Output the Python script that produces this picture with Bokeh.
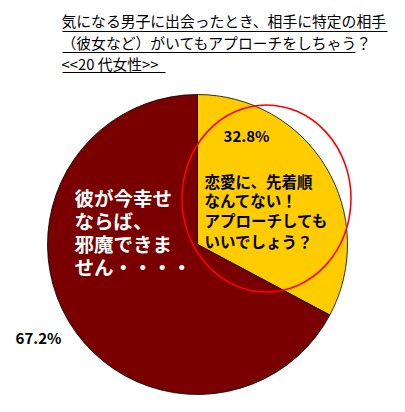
import math
from bokeh.plotting import figure
from bokeh.models import Range1d, ColumnDataSource
from bokeh.core.properties import value
from bokeh.embed import file_html
from bokeh.resources import INLINE

# ---- data ----
categories = ["恋愛に、先着順なんてない！アプローチしてもいいでしょう？",
              "彼が今幸せならば、邪魔できません・・・・"]
percents = [32.8, 67.2]
pct_labels = ["32.8%", "67.2%"]
colors = ["#FFCC00", "#7A0000"]
title_lines = ["気になる男子に出会ったとき、相手に特定の相手",
               "（彼女など）がいてもアプローチをしちゃう？",
               "<<20 代女性>>"]
yellow_text = ["恋愛に、先着順", "なんてない！", "アプローチしても", "いいでしょう？"]
red_text = ["彼が今幸せ", "ならば、", "邪魔できま", "せん・・・・"]

W, H = 389, 396
PH = 412  # data y = PH - page_y


def Y(py):
    return PH - py


p = figure(width=W, height=H, output_backend="svg", toolbar_location=None,
           x_range=Range1d(0, W), y_range=Range1d(PH - H, PH),
           min_border=0)
p.axis.visible = False
p.grid.visible = False
p.outline_line_color = None
p.background_fill_color = "white"

# pie
cx, cy, r = 197, Y(244), 150
total = sum(percents)
starts, ends = [], []
a = math.pi / 2
for v in percents:
    sweep = 2 * math.pi * v / total
    ends.append(a)
    starts.append(a - sweep)
    a -= sweep
src = ColumnDataSource(dict(start=starts, end=ends, color=colors))
p.wedge(x=cx, y=cy, radius=r, start_angle="start", end_angle="end",
        direction="anticlock", fill_color="color", line_color="black",
        line_width=0.8, source=src)

# red ellipse
p.ellipse(x=266, y=Y(198), width=169, height=187, fill_color=None,
          line_color="#FF0000", line_width=1.6)

font = value("Noto Sans CJK JP")

# title
ty = [20, 42, 63]
p.text(x=[61] * 3, y=[Y(t) for t in ty], text=title_lines, text_font=font,
       text_font_size="14.8px", text_color="black", text_baseline="middle",
       text_align="left")
ux1 = [387, 355, 165]
uy = [31, 52, 72]
p.segment(x0=[62] * 3, y0=[Y(u) for u in uy], x1=ux1, y1=[Y(u) for u in uy],
          line_color="black", line_width=1)

# percent labels
p.text(x=[246, 38], y=[Y(135), Y(337)], text=pct_labels, text_font=font,
       text_font_size="15px", text_font_style="bold", text_color="black",
       text_align="center", text_baseline="middle")

# yellow slice text
p.text(x=[204] * 4, y=[Y(v) for v in [180, 199, 219, 240]], text=yellow_text,
       text_font=font, text_font_size="15.5px", text_font_style="bold",
       text_color="black", text_align="left", text_baseline="middle")

# red slice text
p.text(x=[74] * 4, y=[Y(v) for v in [197, 220, 243, 266]], text=red_text,
       text_font=font, text_font_size="19.5px", text_font_style="bold",
       text_color="white", text_align="left", text_baseline="middle")

open("out.html", "w").write(file_html(p, INLINE))
